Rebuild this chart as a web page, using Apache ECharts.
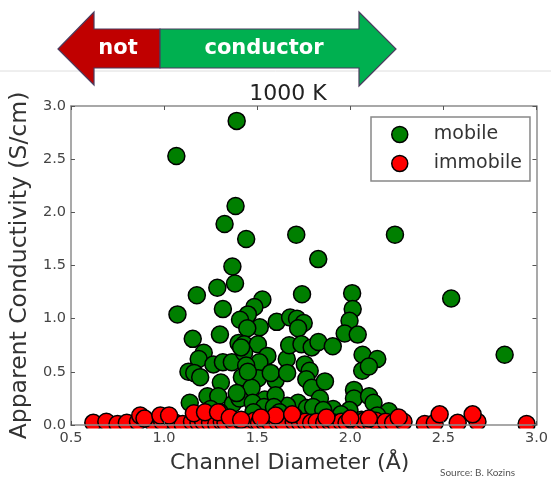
<!DOCTYPE html>
<html>
<head>
<meta charset="utf-8">
<script src="https://cdn.jsdelivr.net/npm/echarts@6/dist/echarts.min.js"></script>
<style>
html,body{margin:0;padding:0;background:#fff;}
#chart{width:551px;height:479px;}
</style>
</head>
<body>
<div id="chart"></div>
<script>
// ---- data ----
const mobileX = [1.39,1.066,1.384,1.325,1.441,1.71,2.24,1.828,1.367,1.381,1.286,1.176,1.072,1.316,1.528,1.485,1.45,1.408,1.514,1.447,1.605,1.741,1.677,1.714,1.75,1.72,2.01,2.013,1.996,1.97,2.04,2.542,2.829,1.154,1.30,1.213,1.186,1.265,1.316,1.364,1.131,1.162,1.194,1.305,1.40,1.43,1.504,1.43,1.555,1.512,1.441,1.418,1.505,1.599,1.573,1.47,1.659,1.672,1.738,1.793,1.829,1.906,1.661,1.756,1.782,1.764,1.793,1.864,1.837,2.066,2.145,2.064,2.10,2.02,2.02,2.101,2.125,2.207,2.145,1.996,1.908,1.72,1.767,1.661,1.138,1.233,1.291,1.37,1.405,1.541,1.599,1.476,1.537,1.59,1.414,1.80,1.855,1.45,1.39,1.62,1.48,1.30,1.25,1.95,2.06,1.70];
const mobileY = [2.86,2.53,2.06,1.89,1.75,1.79,1.79,1.56,1.49,1.33,1.29,1.22,1.04,1.09,1.18,1.11,1.04,0.99,0.92,0.91,0.97,1.23,1.01,1.00,0.96,0.91,1.24,1.09,0.98,0.86,0.85,1.19,0.66,0.81,0.85,0.68,0.62,0.57,0.59,0.59,0.50,0.49,0.45,0.40,0.77,0.76,0.76,0.68,0.65,0.59,0.56,0.45,0.44,0.42,0.49,0.35,0.62,0.75,0.76,0.73,0.78,0.74,0.49,0.57,0.51,0.43,0.35,0.41,0.25,0.66,0.62,0.51,0.55,0.33,0.25,0.27,0.21,0.13,0.09,0.14,0.15,0.21,0.16,0.18,0.21,0.27,0.27,0.20,0.25,0.24,0.28,0.21,0.17,0.17,0.73,0.17,0.14,0.50,0.30,0.12,0.12,0.12,0.15,0.10,0.05,0.08];
const immobileX = [0.62,0.69,0.75,0.80,0.86,0.94,0.99,1.06,1.10,1.15,1.185,1.21,1.247,1.28,1.31,1.33,1.37,1.414,1.45,1.485,1.51,1.537,1.57,1.608,1.64,1.696,1.73,1.758,1.79,1.82,1.86,1.89,1.92,1.952,1.98,2.013,2.05,2.075,2.11,2.137,2.19,2.23,2.286,2.40,2.454,2.577,2.683,2.947,0.872,0.895,0.98,1.027,1.16,1.22,1.29,1.353,1.414,1.599,1.688,1.872,2.26,2.48,2.657,1.52,2.0,2.1];
const immobileY = [0.02,0.03,0.01,0.02,0.03,0.02,0.03,0.02,0.01,0.03,0.02,0.03,0.02,0.01,0.03,0.02,0.03,0.04,0.02,0.04,0.02,0.03,0.02,0.03,0.02,0.03,0.02,0.03,0.02,0.03,0.02,0.03,0.02,0.03,0.02,0.04,0.02,0.04,0.02,0.04,0.03,0.02,0.03,0.01,0.02,0.02,0.03,0.01,0.09,0.06,0.09,0.09,0.11,0.12,0.12,0.07,0.05,0.09,0.10,0.07,0.07,0.10,0.10,0.07,0.06,0.06];
const xTickLabels = ['0.5','1.0','1.5','2.0','2.5','3.0'];
const yTickLabels = ['0.0','0.5','1.0','1.5','2.0','2.5','3.0'];
const seriesNames = ['mobile','immobile'];
const titleText = '1000 K';
const xName = 'Channel Diameter (Å)';
const yName = 'Apparent Conductivity (S/cm)';
const arrowLeftText = 'not';
const arrowRightText = 'conductor';
const sourceText = 'Source: B. Kozins';

const mobile = mobileX.map((x,i)=>[x,mobileY[i]]);
const immobile = immobileX.map((x,i)=>[x,immobileY[i]]);

const FONT = 'DejaVu Sans';
const axisCol = '#8c8c8c';
const tickCol = '#555';

const chart = echarts.init(document.getElementById('chart'), null, {renderer:'canvas'});
const baseX = {type:'value', min:0.5, max:3.0, interval:0.5, splitLine:{show:false}, z:10,
  axisLine:{onZero:false, lineStyle:{color:axisCol, width:1.5}},
  axisTick:{inside:true, length:4, lineStyle:{color:tickCol}}};
const baseY = {type:'value', min:0, max:3.0, interval:0.5, splitLine:{show:false}, z:10,
  axisLine:{onZero:false, lineStyle:{color:axisCol, width:1.5}},
  axisTick:{inside:true, length:4, lineStyle:{color:tickCol}}};

chart.setOption({
  backgroundColor:'#fff',
  animation:false,
  grid:{left:67, right:11, top:106, bottom:51, containLabel:false},
  xAxis:[
    Object.assign({}, baseX, {position:'bottom',
      axisLabel:{margin:6, fontSize:14.5, color:'#444', fontFamily:FONT,
        formatter:v=>xTickLabels[Math.round((v-0.5)/0.5)]},
      name:xName, nameLocation:'middle', nameGap:27,
      nameTextStyle:{fontSize:22, color:'#333', fontFamily:FONT, padding:[0,28,0,0]}}),
    Object.assign({}, baseX, {position:'top', axisLabel:{show:false}})
  ],
  yAxis:[
    Object.assign({}, baseY, {position:'left',
      axisLabel:{margin:5, fontSize:14.5, color:'#444', fontFamily:FONT,
        formatter:v=>yTickLabels[Math.round(v/0.5)]},
      name:yName, nameLocation:'middle', nameGap:26, nameRotate:90,
      nameTextStyle:{fontSize:23.5, color:'#333', fontFamily:FONT}}),
    Object.assign({}, baseY, {position:'right', axisLabel:{show:false}})
  ],
  legend:{
    data:seriesNames, orient:'vertical', left:371, top:117,
    padding:[8,8,8,20], itemWidth:58, itemHeight:16, itemGap:10,
    backgroundColor:'#fff', borderColor:'#888', borderWidth:1.5,
    selectedMode:false, z:12,
    itemStyle:{borderColor:'#000', borderWidth:1.5},
    textStyle:{fontSize:19, color:'#333', fontFamily:FONT}
  },
  series:[
    {name:seriesNames[0], type:'scatter', data:mobile, symbol:'circle', symbolSize:17, clip:true,
      itemStyle:{color:'#007f00', borderColor:'#000', borderWidth:1.5, opacity:1}},
    {name:seriesNames[1], type:'scatter', data:immobile, symbol:'circle', symbolSize:17, clip:true,
      itemStyle:{color:'#ff0000', borderColor:'#000', borderWidth:1.5, opacity:1}}
  ],
  graphic:[
    {type:'rect', shape:{x:60, y:428.6, width:485, height:12}, style:{fill:'#fff'}, z:5, silent:true},
    {type:'line', shape:{x1:0,y1:71,x2:551,y2:71}, style:{stroke:'#dedede', lineWidth:1}, z:1},
    {type:'polygon', shape:{points:[[58,49],[94,12],[94,29],[160,29],[160,68],[94,68],[94,85]]},
      style:{fill:'#c00000', stroke:'#4b3b5e', lineWidth:1.2}, z:2},
    {type:'polygon', shape:{points:[[160,29],[359,29],[359,12],[396,49],[359,86],[359,68],[160,68]]},
      style:{fill:'#00b050', stroke:'#4b3b5e', lineWidth:1.2}, z:2},
    {type:'text', x:118, y:49, style:{text:arrowLeftText, fill:'#fff', font:'bold 21px "DejaVu Sans"', textAlign:'center', textVerticalAlign:'middle'}, z:3},
    {type:'text', x:264, y:49, style:{text:arrowRightText, fill:'#fff', font:'bold 21px "DejaVu Sans"', textAlign:'center', textVerticalAlign:'middle'}, z:3},
    {type:'text', x:288, y:94, style:{text:titleText, fill:'#222', font:'22px "DejaVu Sans"', textAlign:'center', textVerticalAlign:'middle'}, z:3},
    {type:'text', x:440, y:473, style:{text:sourceText, fill:'#555', font:'10px Lato', textAlign:'left', textVerticalAlign:'middle'}, z:3}
  ]
});
</script>
</body>
</html>
